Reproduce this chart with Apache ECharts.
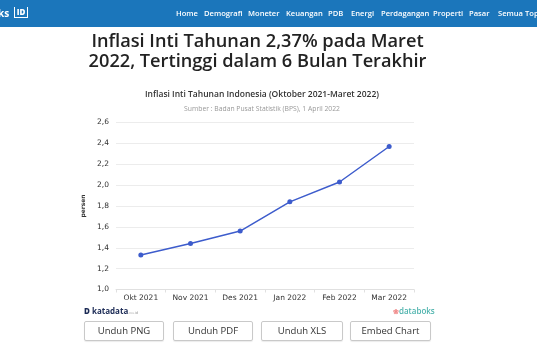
<!DOCTYPE html>
<html>
<head>
<meta charset="utf-8">
<script src="https://cdn.jsdelivr.net/npm/echarts@6/dist/echarts.min.js"></script>
<style>
  html, body { margin:0; padding:0; width:537px; height:360px; overflow:hidden; background:#fff; font-family:"Open Sans", sans-serif; }
  #nav { position:absolute; left:0; top:0; width:537px; height:27px; background:#1b76bb; }
  #nav span { position:absolute; top:8px; color:#fff; font-size:7.6px; font-weight:600; white-space:nowrap; }
  #brand { position:absolute; left:-2px; top:6px; color:#fff; font-size:10px; font-weight:700; }
  #logo { position:absolute; left:14px; top:7px; width:12px; height:10px; border:1.5px solid #fff; border-top:none; color:#fff; font-size:8px; font-weight:800; line-height:9px; text-align:center; }
  #headline { position:absolute; left:-22px; top:31px; width:559px; text-align:center; font-size:18.2px; font-weight:600; line-height:19.5px; color:#222; }
  #chart { position:absolute; left:0; top:0; width:537px; height:360px; }
  .btn { position:absolute; top:321px; height:18px; border:1px solid #c9c9c9; border-radius:2px; background:#fff; box-shadow:0 1px 1px rgba(0,0,0,0.08); font-size:9.5px; color:#333; line-height:18px; text-align:center; }
  #kata { position:absolute; left:84px; top:305px; font-size:8px; font-weight:700; color:#1b2a55; }
  #kata small { font-size:4px; color:#999; font-weight:400; }
  #databoks { position:absolute; left:393px; top:305px; font-size:8px; font-weight:600; color:#4db3ad; }
  #databoks b { color:#f08b8b; font-size:7px; }
</style>
</head>
<body>
<div id="chart"></div>
<div id="nav">
  <div id="brand">ks</div>
  <div id="logo">ID</div>
  <span style="left:176px">Home</span>
  <span style="left:204px">Demografi</span>
  <span style="left:248px">Moneter</span>
  <span style="left:286px">Keuangan</span>
  <span style="left:328px">PDB</span>
  <span style="left:351px">Energi</span>
  <span style="left:381px">Perdagangan</span>
  <span style="left:433px">Properti</span>
  <span style="left:469px">Pasar</span>
  <span style="left:498px">Semua Topik</span>
</div>
<div id="headline">Inflasi Inti Tahunan 2,37% pada Maret<br>2022, Tertinggi dalam 6 Bulan Terakhir</div>
<div id="kata"><span style="font-weight:900">D</span> katadata<small>.co.id</small></div>
<div id="databoks"><b>&#10048;</b>databoks</div>
<div class="btn" style="left:84px;width:78px">Unduh PNG</div>
<div class="btn" style="left:173px;width:78px">Unduh PDF</div>
<div class="btn" style="left:261px;width:80px">Unduh XLS</div>
<div class="btn" style="left:350px;width:79px">Embed Chart</div>
<script>
const categories = ["Okt 2021", "Nov 2021", "Des 2021", "Jan 2022", "Feb 2022", "Mar 2022"];
const inflasiInti = [1.33, 1.44, 1.56, 1.84, 2.03, 2.37];
const yMin = 1.0, yMax = 2.6, yStep = 0.2;

const chart = echarts.init(document.getElementById('chart'));
chart.setOption({
  animation: false,
  title: {
    text: 'Inflasi Inti Tahunan Indonesia (Oktober 2021-Maret 2022)',
    subtext: 'Sumber : Badan Pusat Statistik (BPS), 1 April 2022',
    left: 257,
    textAlign: 'center',
    top: 85,
    itemGap: 7,
    textStyle: { fontSize: 8.5, fontWeight: 600, color: '#333', fontFamily: 'Open Sans' },
    subtextStyle: { fontSize: 6.8, color: '#999', fontFamily: 'Open Sans' }
  },
  grid: { left: 116, right: 123, top: 122.5, bottom: 70.5 },
  xAxis: {
    type: 'category',
    data: categories,
    boundaryGap: true,
    axisLine: { lineStyle: { color: '#e0e0e0' } },
    axisTick: { show: true, length: 3, lineStyle: { color: '#e0e0e0' } },
    axisLabel: { fontSize: 7.5, color: '#333', margin: 5, fontFamily: 'DejaVu Sans' }
  },
  yAxis: {
    type: 'value',
    min: yMin, max: yMax, interval: yStep,
    name: 'persen',
    nameLocation: 'middle',
    nameGap: 22,
    nameRotate: 90,
    nameTextStyle: { fontSize: 6, fontWeight: 'bold', color: '#333', fontFamily: 'DejaVu Sans' },
    axisLine: { show: false },
    axisTick: { show: false },
    splitLine: { lineStyle: { color: '#ececec' } },
    axisLabel: {
      fontSize: 7.5, color: '#333', margin: 7, fontFamily: 'DejaVu Sans',
      formatter: v => v.toFixed(1).replace('.', ',')
    }
  },
  series: [{
    type: 'line',
    data: inflasiInti,
    symbol: 'circle',
    symbolSize: 5,
    lineStyle: { color: '#3d5ccc', width: 1.5 },
    itemStyle: { color: '#3d5ccc' }
  }]
});
</script>
</body>
</html>
